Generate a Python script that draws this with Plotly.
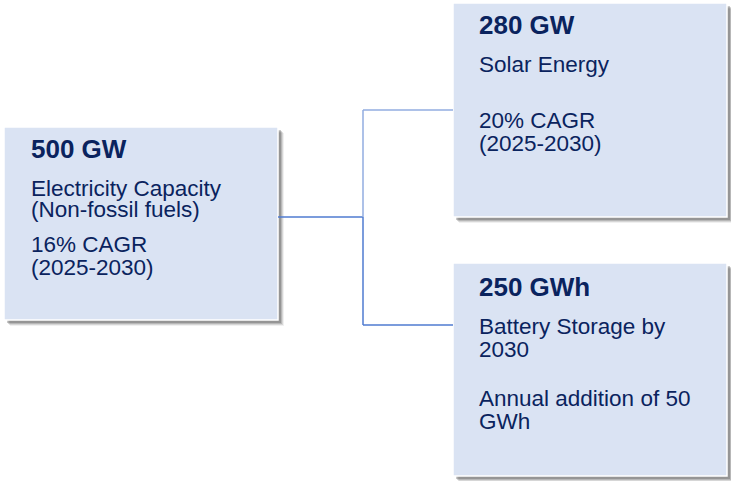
import plotly.graph_objects as go

# ---- Data (text content) ----
box_titles = ["500 GW", "280 GW", "250 GWh"]
box_lines = [
    ["Electricity Capacity", "(Non-fossil fuels)", "16% CAGR", "(2025-2030)"],
    ["Solar Energy", "20% CAGR", "(2025-2030)"],
    ["Battery Storage by", "2030", "Annual addition of 50", "GWh"],
]

# ---- Layout (page-pixel geometry) ----
W, H = 731, 481
boxes = [  # x0, x1, y0, y1
    (4, 278, 127, 320),
    (453, 727, 3, 217),
    (453, 727, 263, 476),
]
title_y = [149, 25, 287]
lines_y = [
    [188, 209, 244, 267],
    [64, 120, 143],
    [326, 349, 398, 421],
]
text_x = [29, 477, 477]

FILL = "#DAE3F3"
TEXT = "#0A235E"
FONT = "Liberation Sans, Arial, sans-serif"

fig = go.Figure()
fig.add_trace(go.Scatter(x=[0, W], y=[0, H], mode="markers",
                         marker=dict(opacity=0), hoverinfo="skip", showlegend=False))

shapes = []
# shadows
for (x0, x1, y0, y1) in boxes:
    for d, a in [(6, 0.08), (5, 0.14), (4, 0.20), (3, 0.28)]:
        shapes.append(dict(type="rect", xref="x", yref="y",
                           x0=x0 + d, x1=x1 + d, y0=y0 + d, y1=y1 + d,
                           fillcolor=f"rgba(60,60,60,{a})", line=dict(width=0), layer="below"))
# boxes
for (x0, x1, y0, y1) in boxes:
    shapes.append(dict(type="rect", xref="x", yref="y", x0=x0, x1=x1, y0=y0, y1=y1,
                       fillcolor=FILL, line=dict(color="white", width=1.5), layer="below"))

# connectors
light = "#92ADE0"
dark = "#4F7BD1"
conn = [
    (278, 217, 363, 217, dark),
    (363, 110, 363, 217, light),
    (363, 217, 363, 325, dark),
    (363, 110, 453, 110, light),
    (363, 325, 453, 325, dark),
]
for (xa, ya, xb, yb, c) in conn:
    shapes.append(dict(type="line", xref="x", yref="y", x0=xa, y0=ya, x1=xb, y1=yb,
                       line=dict(color=c, width=1.5)))

annotations = []
for i in range(3):
    annotations.append(dict(x=text_x[i], y=title_y[i], xref="x", yref="y",
                            text=f"<b>{box_titles[i]}</b>", showarrow=False,
                            xanchor="left", yanchor="middle",
                            font=dict(family=FONT, size=26, color=TEXT)))
    for t, yy in zip(box_lines[i], lines_y[i]):
        annotations.append(dict(x=text_x[i], y=yy, xref="x", yref="y",
                                text=t, showarrow=False,
                                xanchor="left", yanchor="middle",
                                font=dict(family=FONT, size=22.5, color=TEXT)))

fig.update_layout(
    width=W, height=H,
    margin=dict(l=0, r=0, t=0, b=0),
    paper_bgcolor="white", plot_bgcolor="white",
    xaxis=dict(range=[0, W], visible=False, fixedrange=True),
    yaxis=dict(range=[H, 0], visible=False, fixedrange=True),
    shapes=shapes, annotations=annotations,
    showlegend=False,
)
fig.write_html(
    "out.html",
    config={"displayModeBar": False},
    post_script="document.body.style.margin='0';document.body.style.padding='0';"
                "document.body.style.overflow='hidden';"
                "document.documentElement.style.overflow='hidden';",
)
